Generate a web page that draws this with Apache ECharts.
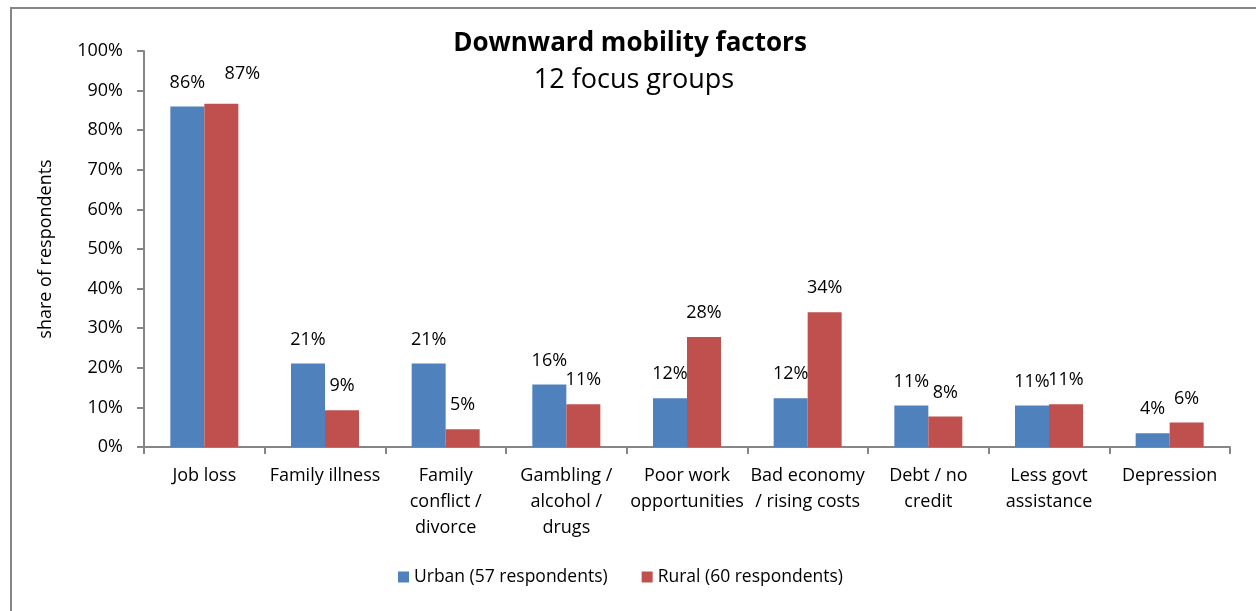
<!DOCTYPE html>
<html>
<head>
<meta charset="utf-8">
<title>Downward mobility factors</title>
<script src="https://cdn.jsdelivr.net/npm/echarts@6/dist/echarts.min.js"></script>
<style>
  html, body { margin: 0; padding: 0; background: #ffffff; }
  #chart { width: 1256px; height: 611px; }
</style>
</head>
<body>
<div id="chart"></div>
<script>
// Factors named by focus group participants
const categories = [
  'Job loss',
  'Family illness',
  'Family\nconflict /\ndivorce',
  'Gambling /\nalcohol /\ndrugs',
  'Poor work\nopportunities',
  'Bad economy\n/ rising costs',
  'Debt / no\ncredit',
  'Less govt\nassistance',
  'Depression'
];

// Share of respondents (%) naming each factor
const urbanValues = [86.0, 21.1, 21.1, 15.8, 12.3, 12.3, 10.5, 10.5, 3.5];
const ruralValues = [86.7, 9.3, 4.5, 10.8, 27.8, 34.0, 7.7, 10.8, 6.2];

const seriesNames = ['Urban (57 respondents)', 'Rural (60 respondents)'];
const yTicks = [0, 10, 20, 30, 40, 50, 60, 70, 80, 90, 100];

const FONT = '"Open Sans", "Liberation Sans", sans-serif';
const AXIS_GRAY = '#868686';

const chart = echarts.init(document.getElementById('chart'), null, { renderer: 'canvas' });

const labelStyle = {
  show: true,
  position: 'top',
  distance: 12,
  fontFamily: FONT,
  fontSize: 18,
  lineHeight: 24,
  color: '#000000',
  formatter: p => Math.round(p.value) + '%'
};

// The 87% label sits slightly off its bar
const ruralData = ruralValues.map((v, i) =>
  i === 0 ? { value: v, label: { offset: [21, -6] } } : v
);

chart.setOption({
  animation: false,
  backgroundColor: '#ffffff',
  title: [
    {
      text: 'Downward mobility factors',
      left: 625, top: 26, textAlign: 'center',
      textStyle: { fontFamily: FONT, fontWeight: 'bold', fontSize: 26, color: '#000000' }
    },
    {
      text: '12 focus groups',
      left: 629, top: 62, textAlign: 'center',
      textStyle: { fontFamily: FONT, fontWeight: 'normal', fontSize: 27, color: '#000000' }
    }
  ],
  graphic: [
    {
      type: 'rect',
      shape: { x: 11, y: 8, width: 1400, height: 800 },
      style: { fill: 'none', stroke: AXIS_GRAY, lineWidth: 2 },
      silent: true
    }
  ],
  legend: {
    left: 398,
    top: 568,
    padding: 0,
    icon: 'rect',
    itemWidth: 11,
    itemHeight: 11,
    itemGap: 34,
    textStyle: { fontFamily: FONT, fontSize: 17.5, color: '#000000' },
    data: seriesNames
  },
  grid: { left: 144, right: 26, top: 51, bottom: 164, containLabel: false },
  xAxis: {
    type: 'category',
    data: categories,
    boundaryGap: true,
    axisLine: { show: true, lineStyle: { color: AXIS_GRAY, width: 2 } },
    axisTick: { show: true, length: 7, alignWithLabel: false, interval: 0, lineStyle: { color: AXIS_GRAY, width: 2 } },
    axisLabel: {
      interval: 0, margin: 16,
      fontFamily: FONT, fontSize: 18, lineHeight: 26, color: '#000000'
    },
    splitLine: { show: false }
  },
  yAxis: {
    type: 'value',
    min: yTicks[0],
    max: yTicks[yTicks.length - 1],
    interval: yTicks[1] - yTicks[0],
    name: 'share of respondents',
    nameLocation: 'middle',
    nameRotate: 90,
    nameGap: 89,
    nameTextStyle: { fontFamily: FONT, fontSize: 18, color: '#000000' },
    axisLine: { show: true, lineStyle: { color: AXIS_GRAY, width: 2 } },
    axisTick: { show: true, length: 7, inside: false, lineStyle: { color: AXIS_GRAY, width: 2 } },
    axisLabel: {
      margin: 21,
      fontFamily: FONT, fontSize: 18, color: '#000000',
      formatter: v => v + '%'
    },
    splitLine: { show: false }
  },
  series: [
    {
      name: seriesNames[0],
      type: 'bar',
      data: urbanValues,
      barWidth: 34,
      barGap: '0%',
      itemStyle: { color: '#4F81BD' },
      label: labelStyle
    },
    {
      name: seriesNames[1],
      type: 'bar',
      data: ruralData,
      barWidth: 34,
      barGap: '0%',
      itemStyle: { color: '#C0504D' },
      label: labelStyle
    }
  ]
});
</script>
</body>
</html>
